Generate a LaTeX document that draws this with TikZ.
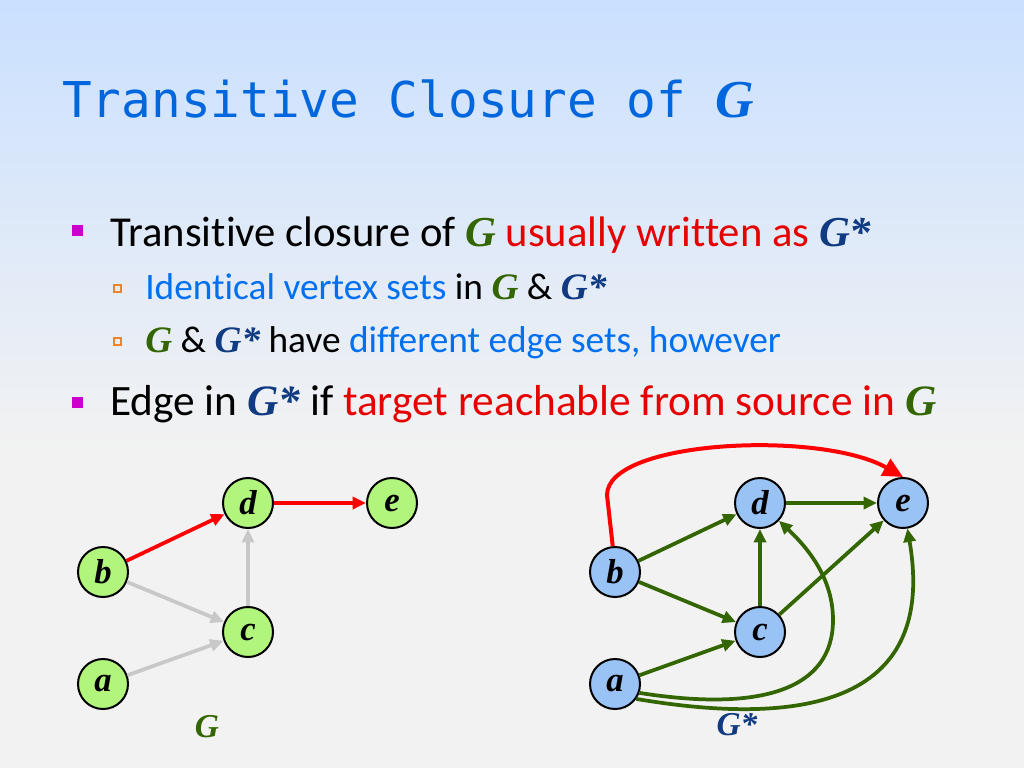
\documentclass[tikz,border=0pt]{standalone}
\usepackage{fontspec}
\setmainfont{Carlito}[RawFeature={-liga;-dlig;-clig;-calt;-hlig}]
\newfontfamily\titlefont{DejaVu Sans Mono}
\newfontfamily\gfont{Liberation Serif}
\usetikzlibrary{arrows.meta}
\definecolor{bgtop}{RGB}{202,224,255}
\definecolor{bgbot}{RGB}{242,242,242}
\definecolor{titleblue}{RGB}{0,102,221}
\definecolor{txtblue}{RGB}{0,112,240}
\definecolor{txtred}{RGB}{230,0,0}
\definecolor{ggreen}{RGB}{51,102,0}
\definecolor{gsblue}{RGB}{16,58,130}
\definecolor{bulmag}{RGB}{204,0,204}
\definecolor{bulorange}{RGB}{240,130,40}
\definecolor{vgreen}{RGB}{178,245,125}
\definecolor{vblue}{RGB}{153,194,245}
\definecolor{egray}{RGB}{200,200,200}
\newcommand{\gG}{{\gfont\bfseries\itshape\color{ggreen}G}}
\newcommand{\gS}{{\gfont\bfseries\itshape\color{gsblue}G*}}
\begin{document}
\begin{tikzpicture}[x=0.75pt,y=-0.75pt,
	vtx/.style={circle,draw,line width=1.5pt,minimum size=37.5pt,inner sep=0pt,font=\gfont\bfseries\itshape\fontsize{26}{26}\selectfont},
	line/.style={anchor=base west,inner sep=0pt,font=\fontsize{32}{32}\selectfont},
	subline/.style={anchor=base west,inner sep=0pt,font=\fontsize{28}{28}\selectfont},
	arr/.style={line width=2.8pt,-{Triangle[length=10pt,width=9pt]}},
	glabel/.style={font=\gfont\bfseries\itshape\fontsize{25}{25}\selectfont}]
	\useasboundingbox (0,0) rectangle (1024,768);
	% background
	\shade[top color=bgtop,bottom color=bgbot] (0,0) rectangle (1024,450);
	\fill[bgbot] (0,449) rectangle (1024,768);
	\node[anchor=base west,inner sep=0pt,text=titleblue,font=\titlefont\fontsize{37}{37}\selectfont] (title) at (62,117) {Transitive Closure of {\gfont\bfseries\itshape\fontsize{40}{40}\selectfont G}};
	% bullets
	\fill[bulmag] (72,225) rectangle (83,236);
	\fill[bulmag] (72,397) rectangle (83,408);
	\draw[bulorange,line width=0.9pt] (114,285) rectangle (121,292);
	\draw[bulorange,line width=0.9pt] (114,338) rectangle (121,345);
	\node[line] (l1) at (110,246) {Transitive closure of \gG{} \textcolor{txtred}{usually written as} \gS};
	\node[subline] (l2) at (145,299) {\textcolor{txtblue}{Identical vertex sets} in \gG{} \& \gS};
	\node[subline] (l3) at (145,352) {\gG{} \& \gS{} have \textcolor{txtblue}{different edge sets, however}};
	\node[line,font=\fontsize{32.5}{32}\selectfont] (l4) at (110,415) {Edge in \gS{} if \textcolor{txtred}{target reachable from source in} \gG};
	% G
	\node[vtx,fill=vgreen] (d) at (248,503) {d};
	\node[vtx,fill=vgreen] (e) at (392,503) {e};
	\node[vtx,fill=vgreen] (b) at (103,572) {b};
	\node[vtx,fill=vgreen] (c) at (248,632) {c};
	\node[vtx,fill=vgreen] (a) at (103,684) {a};
	\draw[arr,red] (b) -- (d);
	\draw[arr,red] (d) -- (e);
	\draw[arr,egray] (b) -- (c);
	\draw[arr,egray] (c) -- (d);
	\draw[arr,egray] (a) -- (c);
	\node[glabel,text=ggreen] (gname) at (207,727) {G};
	% G*
	\node[vtx,fill=vblue] (sd) at (760,503) {d};
	\node[vtx,fill=vblue] (se) at (903,503) {e};
	\node[vtx,fill=vblue] (sb) at (615,572) {b};
	\node[vtx,fill=vblue] (sc) at (760,632) {c};
	\node[vtx,fill=vblue] (sa) at (615,684) {a};
	\draw[arr,ggreen] (sb) -- (sd);
	\draw[arr,ggreen] (sb) -- (sc);
	\draw[arr,ggreen] (sd) -- (se);
	\draw[arr,ggreen] (sc) -- (sd);
	\draw[arr,ggreen] (sc) -- (se);
	\draw[arr,ggreen] (sa) -- (sc);
	\draw[arr,ggreen] (sa.-20) .. controls (760,712) and (833,690) .. (833,620) .. controls (833,580) and (810,550) .. (sd);
	\draw[arr,ggreen] (sa.-35) .. controls (808,728) and (937,701) .. (se);
	\draw[line width=3pt,red,-{Triangle[length=15pt,width=14pt]}] (sb.95) -- (607,495) .. controls (607,440) and (820,430) .. (se.north);
	\node[glabel,text=gsblue] (sname) at (737,725) {G*};
\end{tikzpicture}
\end{document}
